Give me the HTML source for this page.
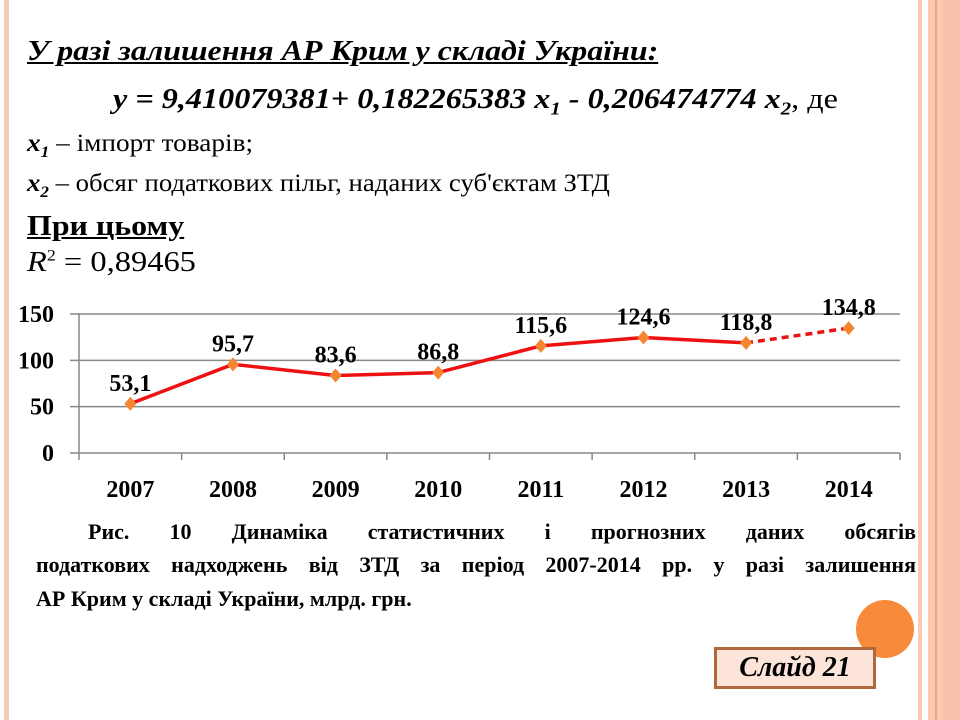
<!DOCTYPE html>
<html><head><meta charset="utf-8">
<style>
body{margin:0;width:960px;height:720px;background:#fff;position:relative;overflow:hidden;font-family:"Liberation Serif","DejaVu Serif",serif;}
.a{position:absolute;white-space:nowrap;}
.cl{position:absolute;left:36px;width:880px;font-size:22px;font-weight:bold;text-align:justify;text-align-last:justify;white-space:normal;line-height:30px;}
</style></head><body>
<div class="a" style="left:4px;top:0;width:5px;height:720px;background:#f8c9b8"></div>
<div class="a" style="left:918px;top:0;width:4px;height:720px;background:#fbc8b0"></div>
<div class="a" style="left:928px;top:0;width:32px;height:720px;background:#fbc8b0"></div>
<div class="a" style="left:935px;top:0;width:2px;height:720px;background:#e8a888"></div>
<div class="a" style="left:943px;top:0;width:17px;height:720px;background:#f7c0a8"></div>

<div class="a" style="left:27px;top:36px;font-size:28px;font-weight:bold;font-style:italic;text-decoration:underline;transform:scaleX(1.14);transform-origin:left">У разі залишення АР Крим у складі України:</div>
<div class="a" style="left:113px;top:84px;font-size:28px;font-style:italic;font-weight:bold;transform:scaleX(1.15);transform-origin:left">y = 9,410079381+ 0,182265383 x<sub style="font-size:18px">1</sub> - 0,206474774 x<sub style="font-size:18px">2</sub><span style="font-weight:normal;font-style:normal">, де</span></div>
<div class="a" style="left:27px;top:130px;font-size:25px;transform:scaleX(1.09);transform-origin:left"><b><i>x<sub style="font-size:16px">1</sub></i></b> – імпорт товарів;</div>
<div class="a" style="left:27px;top:170px;font-size:25px;transform:scaleX(1.07);transform-origin:left"><b><i>x<sub style="font-size:16px">2</sub></i></b> – обсяг податкових пільг, наданих суб'єктам ЗТД</div>
<div class="a" style="left:27px;top:210px;font-size:29px;font-weight:bold;text-decoration:underline;transform:scaleX(1.1);transform-origin:left">При цьому</div>
<div class="a" style="left:27px;top:246px;font-size:29px;transform:scaleX(1.12);transform-origin:left"><i>R</i><sup style="font-size:16px">2</sup> = 0,89465</div>

<svg class="a" style="left:0;top:0" width="960" height="720" id="chart"></svg>

<div class="cl" style="top:517px;left:88px;width:828px">Рис. 10 Динаміка статистичних і прогнозних даних обсягів</div>
<div class="cl" style="top:550px">податкових надходжень від ЗТД за період 2007-2014 рр. у разі залишення</div>
<div class="cl" style="top:584px;text-align-last:left">АР Крим у складі України, млрд. грн.</div>

<div class="a" style="left:856px;top:600px;width:58px;height:58px;border-radius:50%;background:#f88a3c"></div>
<div class="a" style="left:714px;top:647px;width:156px;height:36px;background:#fde4d8;border:3px solid #b0693a;font-size:28px;font-weight:bold;font-style:italic;text-align:center;line-height:36px">Слайд 21</div>

<script>
const categories=["2007","2008","2009","2010","2011","2012","2013","2014"];
const values=[53.1,95.7,83.6,86.8,115.6,124.6,118.8,134.8];
const valueLabels=["53,1","95,7","83,6","86,8","115,6","124,6","118,8","134,8"];
const yTicks=[0,50,100,150];
const forecastStart=6;
const svg=document.getElementById('chart');
const NS='http://www.w3.org/2000/svg';
const x0=79,x1=900,yBase=453,yTop=314,yMax=150;
const bw=(x1-x0)/categories.length;
const X=i=>x0+bw*(i+0.5);
const Y=v=>yBase-(v/yMax)*(yBase-yTop);
function mk(t,a){const e=document.createElementNS(NS,t);for(const k in a)e.setAttribute(k,a[k]);svg.appendChild(e);return e;}
yTicks.forEach(t=>{
 const l=mk('line',{x1:70,x2:x1,y1:Y(t),y2:Y(t),stroke:'#888','stroke-width':1.5});
 
 
 const tx=mk('text',{x:54,y:Y(t)+8,'text-anchor':'end','font-size':24,'font-weight':'bold','font-family':'Liberation Serif,serif'});
 tx.textContent=t;
 
 
});
const ax=mk('line',{x1:x0,x2:x0,y1:yTop,y2:yBase+7,stroke:'#888','stroke-width':1.5});


for(let i=1;i<=categories.length;i++){
 const t=mk('line',{x1:x0+bw*i,x2:x0+bw*i,y1:yBase,y2:yBase+7,stroke:'#888','stroke-width':1.5});
 
 
}
categories.forEach((c,i)=>{
 const t=mk('text',{x:X(i),y:497,'text-anchor':'middle','font-size':24,'font-weight':'bold','font-family':'Liberation Serif,serif'});
 t.textContent=c;
 
 
});
let d='';
for(let i=0;i<=forecastStart;i++)d+=(i?'L':'M')+X(i)+' '+Y(values[i]);
const p=mk('path',{d:d,fill:'none',stroke:'#ee1111','stroke-width':3.5,'stroke-linejoin':'round'});


for(let i=forecastStart;i<values.length-1;i++){
 const f=mk('line',{x1:X(i),y1:Y(values[i]),x2:X(i+1),y2:Y(values[i+1]),stroke:'#ee1111','stroke-width':3.5,'stroke-dasharray':'7,5'});
 
 
}
values.forEach((v,i)=>{
 const cx=X(i),cy=Y(v);
 const m=mk('polygon',{points:`${cx},${cy-7} ${cx+6},${cy} ${cx},${cy+7} ${cx-6},${cy}`,fill:'#f5862f'});
 
 
 const t=mk('text',{x:cx,y:cy-13,'text-anchor':'middle','font-size':24,'font-weight':'bold','font-family':'Liberation Serif,serif'});
 t.textContent=valueLabels[i];
 
 
});
</script>
</body></html>
